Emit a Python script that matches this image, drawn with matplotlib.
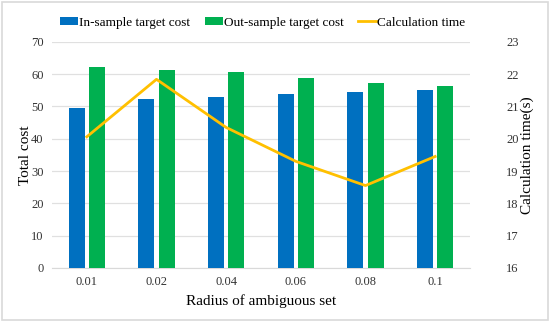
import matplotlib
matplotlib.use("Agg")
import matplotlib.pyplot as plt
import numpy as np
from matplotlib.patches import Rectangle

categories = ["0.01", "0.02", "0.04", "0.06", "0.08", "0.1"]
in_sample = [49.5, 52.3, 52.8, 53.8, 54.6, 55.2]
out_sample = [62.1, 61.4, 60.8, 58.9, 57.2, 56.3]
calc_time = [20.06, 21.84, 20.35, 19.3, 18.55, 19.45]

plt.rcParams['font.family'] = ['Liberation Serif', 'DejaVu Serif']

fig = plt.figure(figsize=(5.5, 3.22), dpi=100)
fig.patches.append(Rectangle((0.004, 0.006), 0.992, 0.988, transform=fig.transFigure,
                             fill=False, edgecolor='#d9d9d9', linewidth=1.2))
ax = fig.add_axes([0.0945, 0.168, 0.76, 0.702])
x = np.arange(len(categories))
w = 0.232
gap = 0.03
b1 = ax.bar(x - w/2 - gap, in_sample, w, color='#0070C0', label='In-sample target cost', zorder=3)
b2 = ax.bar(x + w/2 + gap, out_sample, w, color='#00B050', label='Out-sample target cost', zorder=3)
ax.set_ylim(0, 70)
ax.set_xlim(-0.5, len(categories) - 0.5)
ax.set_yticks(range(0, 71, 10))
ax.set_xticks(x)
ax.set_xticklabels(categories)
ax.yaxis.grid(True, color='#e0e0e0', linewidth=0.9, zorder=0)
for s in ['top', 'right', 'left']:
    ax.spines[s].set_visible(False)
ax.spines['bottom'].set_color('#d9d9d9')
ax.tick_params(axis='both', length=0, labelsize=9, colors='#333333', pad=6)
ax.set_ylabel('Total cost', fontsize=11)
ax.yaxis.set_label_coords(-0.048, 0.5)
ax.set_xlabel('Radius of ambiguous set', fontsize=11, labelpad=4)

ax2 = ax.twinx()
l1, = ax2.plot(x, calc_time, color='#FFC000', linewidth=2, label='Calculation time', zorder=4)
ax2.set_ylim(16, 23)
ax2.set_yticks(range(16, 24))
for s in ['top', 'right', 'left', 'bottom']:
    ax2.spines[s].set_visible(False)
ax2.tick_params(axis='y', length=0, labelsize=9, colors='#333333', pad=26)
ax2.set_ylabel('Calculation time(s)', fontsize=11)
ax2.yaxis.set_label_coords(1.12, 0.5)

fig.legend(handles=[b1, b2, l1], loc='center', bbox_to_anchor=(0.478, 0.93), ncol=3,
           frameon=False, fontsize=9.5, handlelength=1.35, handleheight=0.6,
           columnspacing=1.1, handletextpad=0.1)

fig.savefig('out.png', dpi=100)
